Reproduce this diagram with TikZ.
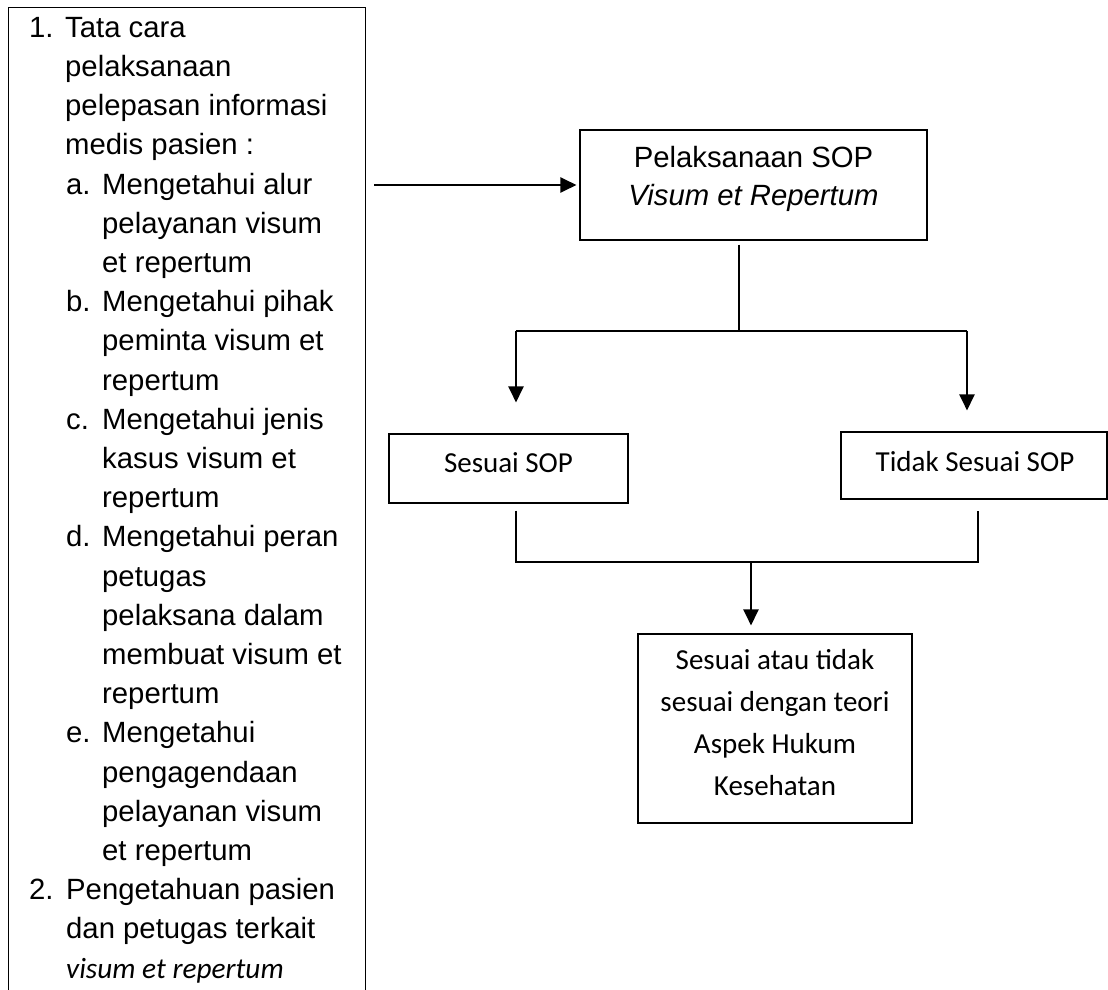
\documentclass[tikz,border=0pt]{standalone}
\usepackage{fontspec}
\setmainfont{Liberation Sans}
\newfontfamily\carlito{Carlito}
\usetikzlibrary{positioning,calc,arrows.meta}

\begin{document}
\begin{tikzpicture}[x=1pt,y=-1pt,
kotak/.style={draw,line width=1.1pt,inner sep=0pt},
garis/.style={line width=2.2pt},
panah/.style={line width=2.2pt,-{Triangle[length=16pt,width=15pt]}},
arial/.style={font=\fontsize{29.3}{38}\selectfont,inner sep=0pt},
calibri/.style={font=\carlito\fontsize{29}{42}\selectfont,inner sep=0pt}]

\useasboundingbox (0,0) rectangle (1108,990);
\clip (0,0) rectangle (1108,990);

% boxes
\node[kotak,anchor=north west,minimum width=357pt,minimum height=1000pt] (kiri) at (8,7) {};
\node[kotak,minimum width=347pt,minimum height=110pt] (sop) at (753.5,185) {};
\node[kotak,minimum width=239pt,minimum height=69pt] (sesuai) at (508.5,468.5) {};
\node[kotak,minimum width=266pt,minimum height=67pt] (tidak) at (974,465.5) {};
\node[kotak,minimum width=274pt,minimum height=189pt] (hasil) at (775,728.5) {};

% texts
\node[arial,font=\fontsize{29.3}{39.2}\selectfont,align=left,anchor=north west] (daftar) at (29,17) {%
\makebox[36pt][l]{1.}Tata cara\\
\hspace*{36pt}pelaksanaan\\
\hspace*{36pt}pelepasan informasi\\
\hspace*{36pt}medis pasien :\\
\hspace*{37pt}\makebox[36pt][l]{a.}Mengetahui alur\\
\hspace*{73pt}pelayanan visum\\
\hspace*{73pt}et repertum\\
\hspace*{37pt}\makebox[36pt][l]{b.}Mengetahui pihak\\
\hspace*{73pt}peminta visum et\\
\hspace*{73pt}repertum\\
\hspace*{37pt}\makebox[36pt][l]{c.}Mengetahui jenis\\
\hspace*{73pt}kasus visum et\\
\hspace*{73pt}repertum\\
\hspace*{37pt}\makebox[36pt][l]{d.}Mengetahui peran\\
\hspace*{73pt}petugas\\
\hspace*{73pt}pelaksana dalam\\
\hspace*{73pt}membuat visum et\\
\hspace*{73pt}repertum\\
\hspace*{37pt}\makebox[36pt][l]{e.}Mengetahui\\
\hspace*{73pt}pengagendaan\\
\hspace*{73pt}pelayanan visum\\
\hspace*{73pt}et repertum\\
\makebox[37pt][l]{2.}Pengetahuan pasien\\
\hspace*{37pt}dan petugas terkait\\
\hspace*{37pt}{\carlito\itshape visum et repertum}};
\node[arial,align=center] (sopteks) at (753.5,179) {Pelaksanaan SOP\\\textit{Visum et Repertum}};
\node[calibri] (sesuaiteks) at (508.5,463) {Sesuai SOP};
\node[calibri] (tidakteks) at (975,462) {Tidak Sesuai SOP};
\node[calibri,align=center] (hasilteks) at (775,723) {Sesuai atau tidak\\sesuai dengan teori\\Aspek Hukum\\Kesehatan};

% branch points
\coordinate (cabang) at (739,331);
\coordinate (bkiri) at (516,331);
\coordinate (bkanan) at (967,331);
\coordinate (gkiri) at (516,562);
\coordinate (gkanan) at (978,562);
\coordinate (gtengah) at (751,562);

% connectors
\draw[panah,shorten <=8pt,shorten >=3pt] (kiri.east |- sop.west) -- (sop.west);
\draw[garis,shorten <=4pt] (sop.south -| cabang) -- (cabang);
\draw[garis] (bkiri) -- (bkanan);
\draw[panah,shorten >=31pt] (bkiri) -- (bkiri |- sesuai.north);
\draw[panah,shorten >=21pt] (bkanan) -- (bkanan |- tidak.north);
\draw[garis,shorten <=7pt,shorten >=11pt] (gkiri |- sesuai.south) -- (gkiri) -- (gkanan) -- (gkanan |- tidak.south);
\draw[panah,shorten >=8pt] (gtengah) -- (gtengah |- hasil.north);

\end{tikzpicture}
\end{document}
